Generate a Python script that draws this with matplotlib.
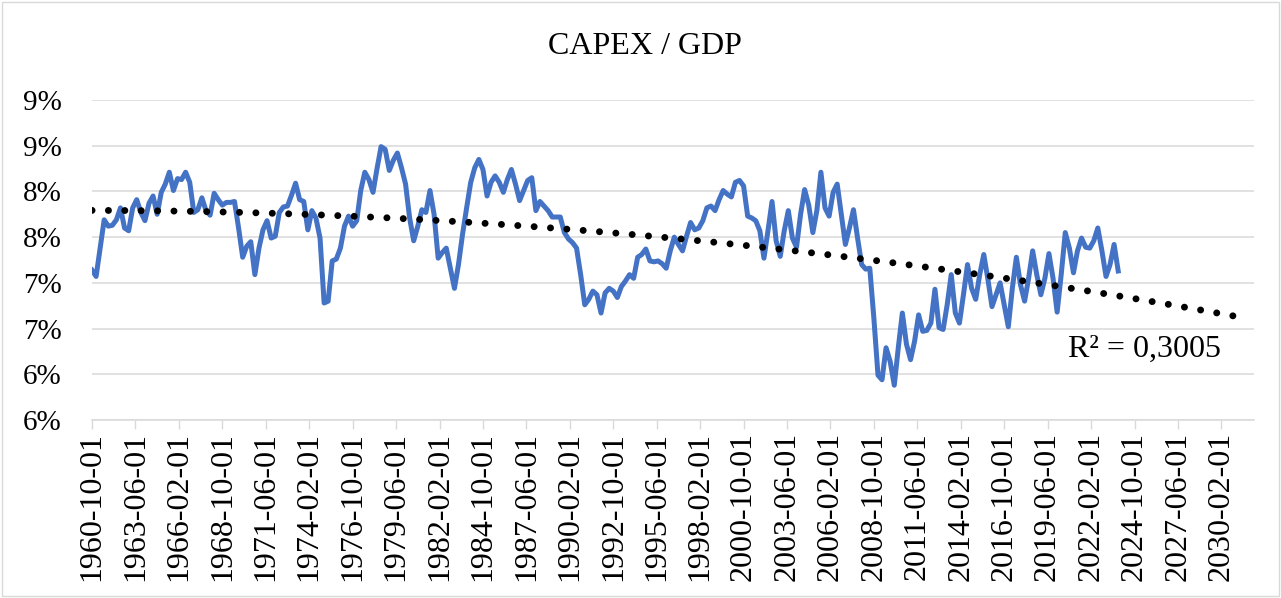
"""CAPEX / GDP quarterly ratio with a 2nd order polynomial trendline."""

import matplotlib

matplotlib.use("Agg")
import matplotlib.dates as mdates
import matplotlib.pyplot as plt
import numpy as np
import pandas as pd

plt.rcParams["font.family"] = ["Liberation Serif", "DejaVu Serif"]

TITLE = "CAPEX / GDP"
R2_LABEL = "R² = 0,3005"

# quarterly values in %, starting 1960-10-01
first_quarter = "1960-10-01"
capex_gdp = [
    7.14, 7.07, 7.38, 7.69, 7.62, 7.63, 7.69, 7.82, 7.60, 7.57,
    7.82, 7.91, 7.77, 7.68, 7.87, 7.95, 7.75, 7.99, 8.08, 8.21,
    8.01, 8.14, 8.13, 8.21, 8.10, 7.77, 7.80, 7.93, 7.79, 7.74,
    7.98, 7.91, 7.85, 7.88, 7.88, 7.89, 7.60, 7.28, 7.40, 7.45,
    7.09, 7.38, 7.58, 7.68, 7.49, 7.51, 7.77, 7.83, 7.84, 7.96,
    8.09, 7.91, 7.89, 7.58, 7.79, 7.71, 7.49, 6.78, 6.80, 7.24,
    7.26, 7.38, 7.62, 7.73, 7.62, 7.68, 8.01, 8.21, 8.13, 7.99,
    8.25, 8.49, 8.46, 8.23, 8.34, 8.42, 8.26, 8.08, 7.71, 7.46,
    7.62, 7.80, 7.77, 8.01, 7.75, 7.27, 7.33, 7.38, 7.16, 6.94,
    7.20, 7.53, 7.82, 8.10, 8.26, 8.35, 8.24, 7.95, 8.10, 8.17,
    8.10, 7.99, 8.13, 8.24, 8.08, 7.90, 8.01, 8.12, 8.15, 7.79,
    7.89, 7.84, 7.79, 7.72, 7.72, 7.72, 7.55, 7.48, 7.44, 7.38,
    7.09, 6.76, 6.82, 6.91, 6.87, 6.67, 6.89, 6.94, 6.91, 6.84,
    6.96, 7.02, 7.09, 7.05, 7.28, 7.31, 7.37, 7.24, 7.23, 7.24,
    7.21, 7.16, 7.35, 7.50, 7.42, 7.35, 7.51, 7.66, 7.58, 7.60,
    7.68, 7.82, 7.84, 7.79, 7.91, 8.01, 7.97, 7.94, 8.10, 8.12,
    8.06, 7.73, 7.71, 7.68, 7.57, 7.27, 7.57, 7.89, 7.46, 7.29,
    7.57, 7.79, 7.49, 7.39, 7.75, 8.02, 7.85, 7.55, 7.79, 8.21,
    7.82, 7.73, 7.99, 8.08, 7.75, 7.42, 7.60, 7.80, 7.49, 7.20,
    7.15, 7.16, 6.61, 5.99, 5.94, 6.29, 6.14, 5.88, 6.29, 6.67,
    6.33, 6.16, 6.36, 6.65, 6.47, 6.48, 6.56, 6.93, 6.51, 6.49,
    6.76, 7.09, 6.67, 6.56, 6.87, 7.20, 6.94, 6.82, 7.09, 7.31,
    7.04, 6.74, 6.87, 7.00, 6.76, 6.52, 6.94, 7.28, 6.98, 6.80,
    7.05, 7.35, 7.09, 6.87, 7.05, 7.32, 7.05, 6.68, 7.09, 7.55,
    7.38, 7.11, 7.35, 7.49, 7.39, 7.38, 7.46, 7.60, 7.35, 7.07,
    7.20, 7.42, 7.13,
]

y_ticks = [5.5, 6.0, 6.5, 7.0, 7.5, 8.0, 8.5, 9.0]
y_tick_labels = ["6%", "6%", "7%", "7%", "8%", "8%", "9%", "9%"]
x_tick_start = "1960-10-01"
x_tick_end = "2030-02-01"
trend_end = "2031-06-01"
axis_end = "2032-02-01"

W, H = 1281, 598
GRID = "#D9D9D9"

dates = pd.date_range(first_quarter, periods=len(capex_gdp), freq="QS-OCT")
x_num = mdates.date2num(dates)

# polynomial (order 2) trendline, extended forward like Excel's forecast
coef = np.polyfit(x_num - x_num[0], capex_gdp, 2)
trend_x = np.linspace(x_num[0], mdates.date2num(pd.Timestamp(trend_end)), 500)
trend_y = np.polyval(coef, trend_x - x_num[0])

fig = plt.figure(figsize=(W / 100, H / 100), dpi=100)
ax = fig.add_axes([92 / W, (H - 420) / H, 1162 / W, 320 / H])

ax.plot(dates, capex_gdp, color="#4472C4", lw=3.6, solid_joinstyle="round", zorder=3)
ax.plot(
    mdates.num2date(trend_x),
    trend_y,
    color="black",
    lw=5.0,
    linestyle=(0, (0.01, 2.35)),
    dash_capstyle="round",
    zorder=4,
)

ax.set_xlim(pd.Timestamp(first_quarter), pd.Timestamp(axis_end))
ax.set_ylim(y_ticks[0], y_ticks[-1])

x_ticks = pd.date_range(x_tick_start, x_tick_end, freq="32MS")
ax.set_xticks(x_ticks)
ax.set_xticklabels([d.strftime("%Y-%m-%d") for d in x_ticks], rotation=90, fontsize=23)
ax.set_yticks(y_ticks)
ax.set_yticklabels(y_tick_labels, fontsize=21)

ax.tick_params(axis="x", length=6.5, width=1, color=GRID, pad=2)
ax.tick_params(axis="y", length=0, pad=22)

for side in ("top", "right", "left"):
    ax.spines[side].set_visible(False)
ax.spines["bottom"].set_color(GRID)
ax.spines["bottom"].set_linewidth(1.1)

ax.yaxis.grid(True, color=GRID, lw=1.1)
ax.set_axisbelow(True)

fig.text(645 / W, 1 - 46 / H, TITLE, ha="center", va="center", fontsize=23)
fig.text(1068 / W, 1 - 357 / H, R2_LABEL, ha="left", va="baseline", fontsize=23)

fig.add_artist(
    plt.Rectangle(
        (2 / W, 2 / H), 1 - 4 / W, 1 - 4 / H,
        transform=fig.transFigure, fill=False, edgecolor=GRID, lw=1.0,
    )
)

fig.savefig("out.png", dpi=100)
plt.close(fig)
